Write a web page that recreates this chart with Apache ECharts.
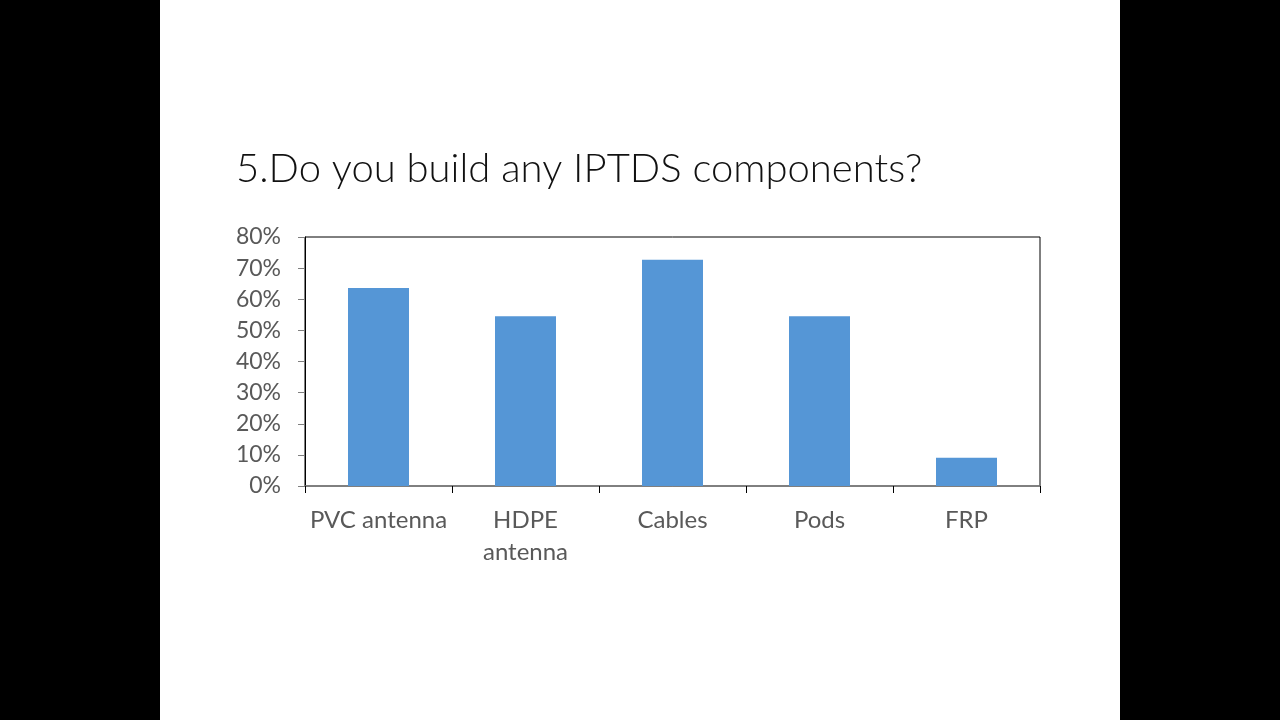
<!DOCTYPE html>
<html>
<head>
<meta charset="utf-8">
<script src="https://cdn.jsdelivr.net/npm/echarts@6/dist/echarts.min.js"></script>
<style>
html,body{margin:0;padding:0;background:#fff;}
#c{width:1280px;height:720px;}
</style>
</head>
<body>
<div id="c"></div>
<script>
const titleText = "5.Do you build any IPTDS components?";
const categories = ["PVC antenna", "HDPE\nantenna", "Cables", "Pods", "FRP"];
const values = [63.6, 54.5, 72.7, 54.5, 9.1];
const yTicks = { min: 0, max: 80, interval: 10 };

const chart = echarts.init(document.getElementById('c'));
chart.setOption({
  backgroundColor: '#ffffff',
  animation: false,
  graphic: [
    { type: 'rect', left: 0, top: 0, shape: { width: 160, height: 720 }, style: { fill: '#000' } },
    { type: 'rect', left: 1120, top: 0, shape: { width: 160, height: 720 }, style: { fill: '#000' } },
    { type: 'text', left: 236, top: 149, style: { text: titleText, font: '300 40px Lato', fill: '#111' } }
  ],
  grid: { left: 305, right: 240, top: 237, bottom: 234, show: true, borderColor: '#000', borderWidth: 1, backgroundColor: 'transparent' },
  xAxis: {
    type: 'category',
    data: categories,
    axisLine: { lineStyle: { color: '#808080', width: 1.5 } },
    axisTick: { show: true, interval: 0, length: 7, lineStyle: { color: '#000' } },
    axisLabel: { interval: 0, color: '#595959', fontFamily: 'Lato', fontSize: 24, margin: 18, lineHeight: 32 }
  },
  yAxis: {
    type: 'value',
    min: yTicks.min, max: yTicks.max, interval: yTicks.interval,
    axisLine: { show: true, lineStyle: { color: '#000' } },
    axisTick: { show: true, length: 7, lineStyle: { color: '#7f7f7f' } },
    splitLine: { show: false },
    axisLabel: { color: '#595959', fontFamily: 'Lato', fontSize: 23, margin: 24, formatter: '{value}%' }
  },
  series: [{
    type: 'bar',
    data: values,
    barWidth: 61,
    itemStyle: { color: '#5596D6' }
  }]
});
</script>
</body>
</html>
